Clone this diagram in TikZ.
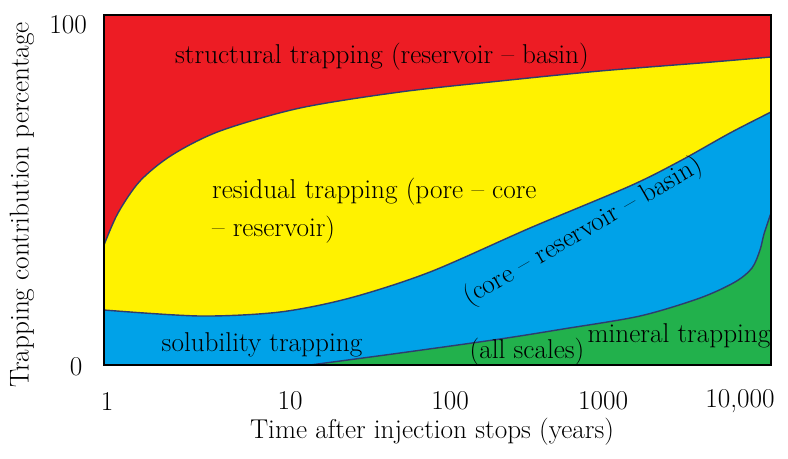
\documentclass[tikz,border=0pt]{standalone}
\usepackage{fontspec}
\usepackage{tikz}
\definecolor{trapred}{RGB}{237,28,36}
\definecolor{trapyellow}{RGB}{255,242,0}
\definecolor{trapblue}{RGB}{0,162,232}
\definecolor{trapgreen}{RGB}{34,177,76}
\definecolor{edgeblue}{RGB}{47,60,110}
\tikzset{
    zone/.style={draw=edgeblue, line width=0.8pt},
    label/.style={inner sep=1pt}
}

\begin{document}
\begin{tikzpicture}[x=0.02cm,y=-0.02cm,font=\fontsize{15.5}{18}\selectfont]
    % Definitions
    \useasboundingbox (0,0) rectangle (788,458);
    \coordinate (TopLeft)  at (104,15);
    \coordinate (BotRight) at (771,365);
    \coordinate (BotLeft)  at (104,365);
    % Areas
    \fill[trapred] (TopLeft) rectangle (BotRight);
    \filldraw[zone, fill=trapyellow] plot[smooth] coordinates {(104,245) (118,213) (140,181) (172,155) (220,131) (300,108) (400,92) (500,81) (600,71) (700,63) (771,57)} -- (BotRight) -- (BotLeft) -- cycle;
    \filldraw[zone, fill=trapblue] plot[smooth] coordinates {(104,310) (200,316) (280,312) (350,298) (430,272) (530,228) (630,186) (680,161) (730,133) (771,112)} -- (BotRight) -- (BotLeft) -- cycle;
    \filldraw[zone, fill=trapgreen] plot[smooth] coordinates {(310,365) (400,353) (500,339) (563,329) (640,316) (700,298) (735,282) (752,268) (760,250) (764,234) (771,213)} -- (BotRight) -- cycle;
    % Frame
    \draw[line width=1.2pt] (TopLeft) rectangle (BotRight);
    % Labels in the plot
    \node(ST)  at (382,57)  [label] {structural trapping (reservoir -- basin)};
    \node(RT)  at (210,211) [label, anchor=west, align=left, font=\fontsize{15.5}{21.5}\selectfont] {residual trapping (pore -- core\\-- reservoir)};
    \node(CRB) at (583,232) [label, rotate=30] {(core -- reservoir -- basin)};
    \node(SOL) at (262,345) [label] {solubility trapping};
    \node(MIN) at (679,336) [label] {mineral trapping};
    \node(ALL) at (527,352) [label] {(all scales)};
    % Axes
    \node(Y100) at (93,25)  [anchor=east] {100};
    \node(Y0)   at (76,367) {0};
    \node(X1)   at (107,401) {1};
    \node(X10)  at (290,401) {10};
    \node(X100) at (450,401) {100};
    \node(X1k)  at (603,401) {1000};
    \node(X10k) at (740,401) {10,000};
    \node(XT) at (432,432) {Time after injection stops (years)};
    \node(YT) at (22,205) [rotate=90] {Trapping contribution percentage};
\end{tikzpicture}
\end{document}
